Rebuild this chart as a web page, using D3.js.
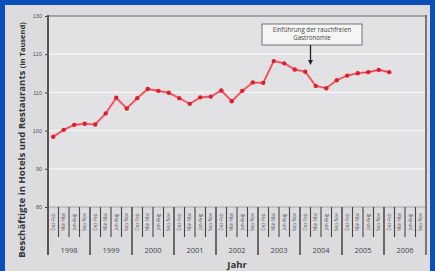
<!DOCTYPE html>
<html>
<head>
<meta charset="utf-8">
<script src="https://cdn.jsdelivr.net/npm/d3@7"></script>
<style>
  body { margin: 0; background: #0b4fb8; }
  svg { display: block; font-family: "Open Sans", "Liberation Sans", sans-serif; }
</style>
</head>
<body>
<div id="viz"></div>
<script>
var years = [1998, 1999, 2000, 2001, 2002, 2003, 2004, 2005, 2006]
var quarters = ["Dez-Feb", "Mär-Mai", "Jun-Aug", "Sep-Nov"]
// Beschäftigte in Tausend, one value per quarter from 1998 Dez-Feb
var values = [98.4, 100.2, 101.5, 101.8, 101.6, 104.5, 108.6, 105.8, 108.5, 110.9,
              110.4, 109.9, 108.5, 107.0, 108.7, 108.9, 110.5, 107.7, 110.4, 112.6,
              112.5, 118.2, 117.6, 116.0, 115.4, 111.7, 111.1, 113.2, 114.4, 115.0,
              115.3, 115.9, 115.3]
var yTicks = [80, 90, 100, 110, 120, 130]
var noteLines = ["Einführung der rauchfreien", "Gastronomie"]
var noteIndex = 24.5   // between 2004 Dez-Feb and Mär-Mai

var width = 435,
    height = 271;
var pLeft = 48, pRight = 426, pTop = 16, pBottom = 207;

var keys = [];
years.forEach(function(y) {
    quarters.forEach(function(q) { keys.push(y + " " + q); });
});

var x = d3.scaleBand().domain(keys).range([pLeft, pRight]).padding(0);
var xYear = d3.scaleBand().domain(years).range([pLeft, pRight]).padding(0);
var y = d3.scaleLinear().domain([80, 130]).range([pBottom, pTop]);

var svg = d3.select("#viz")
  .append("svg")
    .attr("width", width)
    .attr("height", height);

// blue frame + grey panel
svg.append("rect").attr("x", 0).attr("y", 0).attr("width", width).attr("height", height)
    .style("fill", "#0b4fb8");
svg.append("rect").attr("x", 5).attr("y", 5).attr("width", 425).attr("height", 266)
    .style("fill", "#dcdcdf");
svg.append("rect").attr("x", pLeft).attr("y", pTop).attr("width", pRight - pLeft).attr("height", pBottom - pTop)
    .style("fill", "#e2e2e5");

// grid
svg.append("g").selectAll("line")
    .data(yTicks.filter(function(d) { return d > 80 && d < 130; }))
    .enter().append("line")
    .attr("x1", pLeft).attr("x2", pRight)
    .attr("y1", function(d) { return y(d); })
    .attr("y2", function(d) { return y(d); })
    .style("stroke", "#f6f6f6").style("stroke-width", 1.2);

// y axis
var yAxis = svg.append("g")
    .attr("transform", "translate(" + pLeft + ",0)")
    .call(d3.axisLeft(y).tickValues(yTicks).tickSize(3).tickPadding(3));
yAxis.select(".domain").remove();
yAxis.selectAll("line").style("stroke", "#444");
yAxis.selectAll("text").style("font-size", "5.5px").style("fill", "#555");

// frame lines
svg.append("line").attr("x1", pLeft).attr("x2", pRight).attr("y1", pTop).attr("y2", pTop)
    .style("stroke", "#666").style("stroke-width", 1.2);
svg.append("line").attr("x1", pLeft).attr("x2", pRight).attr("y1", pBottom).attr("y2", pBottom)
    .style("stroke", "#9a9a9a").style("stroke-width", 0.8);
svg.append("line").attr("x1", pLeft).attr("x2", pLeft).attr("y1", pTop - 1).attr("y2", 255)
    .style("stroke", "#555").style("stroke-width", 2);
svg.append("line").attr("x1", pRight).attr("x2", pRight).attr("y1", pTop - 1).attr("y2", 255)
    .style("stroke", "#555").style("stroke-width", 1.5);

// quarter tick lines
var inner = keys.slice(1);
svg.append("g").selectAll("line")
    .data(inner)
    .enter().append("line")
    .attr("x1", function(d) { return x(d); })
    .attr("x2", function(d) { return x(d); })
    .attr("y1", pBottom)
    .attr("y2", function(d) { return d.indexOf(quarters[0]) > 0 ? 255 : 237; })
    .style("stroke", "#444")
    .style("stroke-width", function(d) { return d.indexOf(quarters[0]) > 0 ? 1.5 : 1.1; });

// quarter labels
svg.append("g").selectAll("text")
    .data(keys)
    .enter().append("text")
    .attr("transform", function(d) {
        return "translate(" + (x(d) + x.bandwidth() / 2 + 1.6) + "," + 222 + ") rotate(-90)";
    })
    .attr("text-anchor", "middle")
    .style("font-size", "4.6px")
    .style("fill", "#555")
    .text(function(d) { return d.split(" ")[1]; });

// year labels
svg.append("g").selectAll("text")
    .data(years)
    .enter().append("text")
    .attr("x", function(d) { return xYear(d) + xYear.bandwidth() / 2; })
    .attr("y", 253)
    .attr("text-anchor", "middle")
    .style("font-size", "7.5px")
    .style("fill", "#444")
    .text(function(d) { return d; });

// axis titles
svg.append("text")
    .attr("x", 237).attr("y", 268)
    .attr("text-anchor", "middle")
    .style("font-size", "9.5px").style("font-weight", "bold").style("fill", "#333")
    .text("Jahr");

var yt = svg.append("text")
    .attr("transform", "translate(25,140) rotate(-90)")
    .attr("text-anchor", "middle")
    .style("fill", "#333");
yt.append("tspan").style("font-size", "9.6px").style("font-weight", "bold")
    .text("Beschäftigte in Hotels und Restaurants ");
yt.append("tspan").style("font-size", "7.5px").style("font-weight", "bold")
    .text("(in Tausend)");

// line + points
var cx = function(d, i) { return x(keys[i]) + x.bandwidth() / 2; };
var line = d3.line().x(cx).y(function(d) { return y(d); });

svg.append("path").datum(values)
    .attr("d", line)
    .style("fill", "none").style("stroke", "#f2a0a6").style("stroke-width", 2.6);
svg.append("path").datum(values)
    .attr("d", line)
    .style("fill", "none").style("stroke", "#e2404c").style("stroke-width", 1.1);
svg.append("g").selectAll("circle")
    .data(values)
    .enter().append("circle")
    .attr("cx", cx)
    .attr("cy", function(d) { return y(d); })
    .attr("r", 2.2)
    .style("fill", "#d8202e");

// annotation
var ax = pLeft + (pRight - pLeft) * (noteIndex + 0.5) / keys.length;
svg.append("rect").attr("x", 262).attr("y", 24).attr("width", 100).attr("height", 21)
    .style("fill", "#f5f5f5").style("stroke", "#555").style("stroke-width", 0.8);
svg.append("g").selectAll("text")
    .data(noteLines)
    .enter().append("text")
    .attr("x", 312)
    .attr("y", function(d, i) { return 32 + i * 8; })
    .attr("text-anchor", "middle")
    .style("font-size", "6.2px").style("fill", "#444")
    .text(function(d) { return d; });
svg.append("line").attr("x1", ax).attr("x2", ax).attr("y1", 45).attr("y2", 61)
    .style("stroke", "#222").style("stroke-width", 1.3);
svg.append("path")
    .attr("d", "M" + (ax - 2.5) + ",60 L" + (ax + 2.5) + ",60 L" + ax + ",65 Z")
    .style("fill", "#222");
</script>
</body>
</html>
